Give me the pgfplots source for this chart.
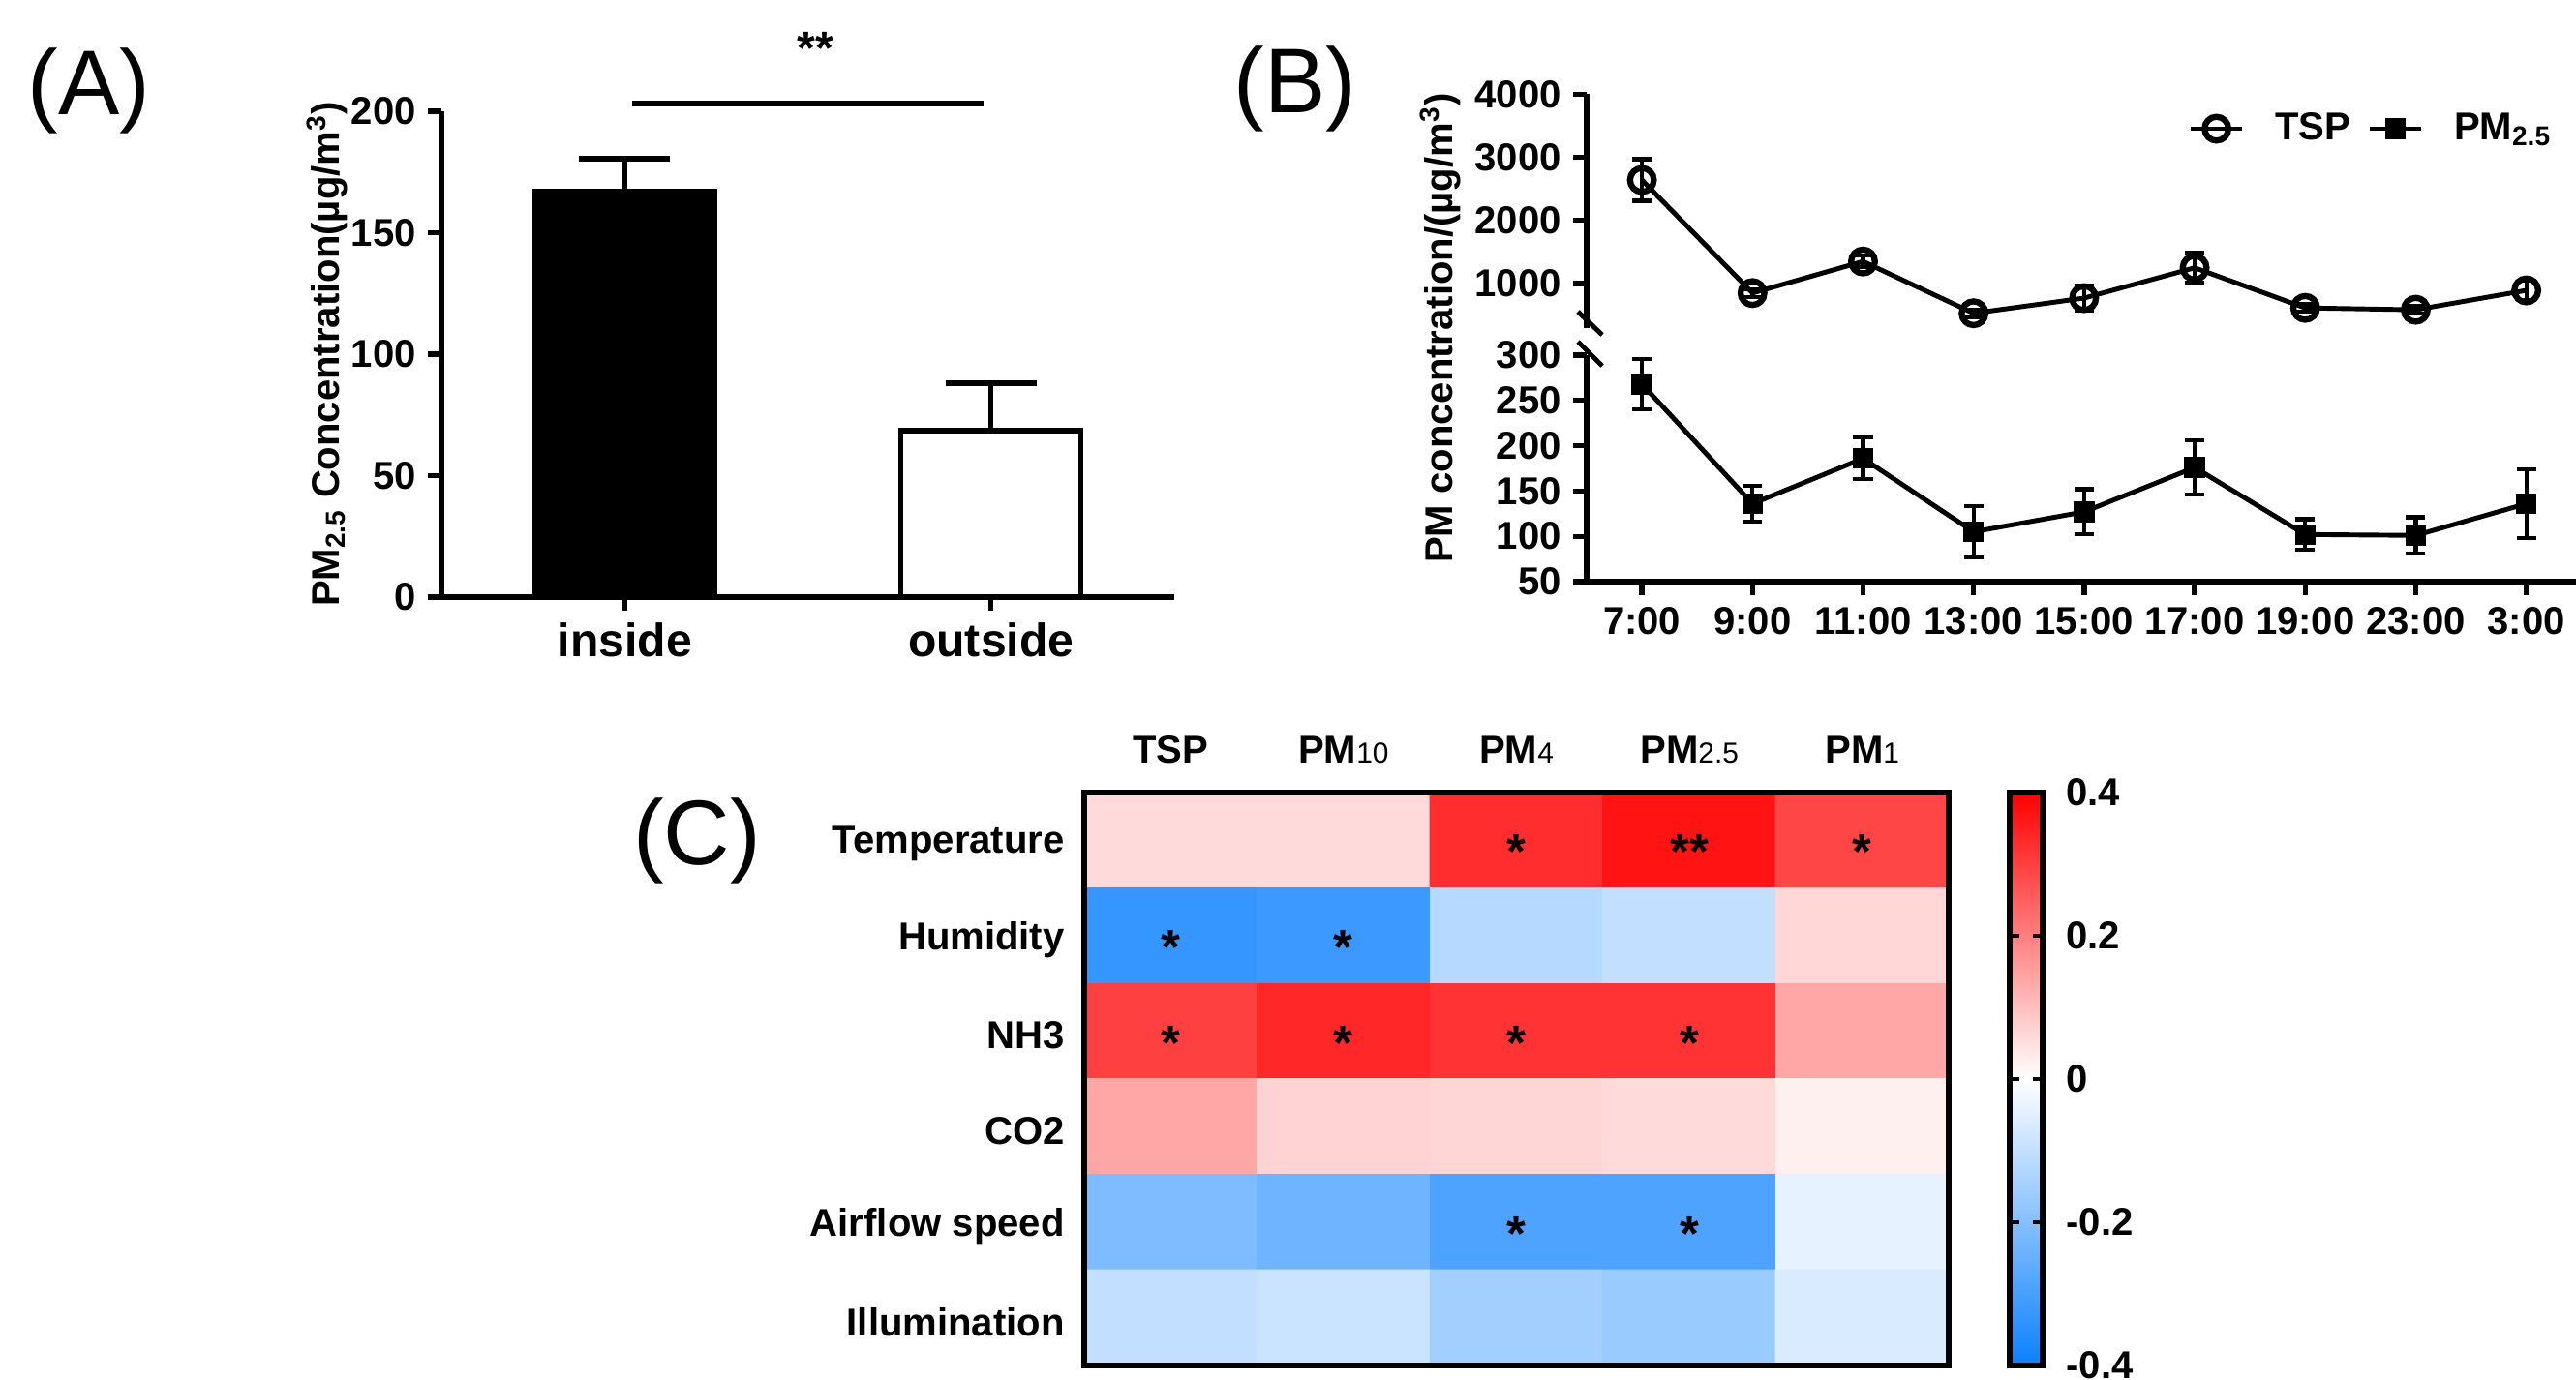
\documentclass[border=0pt]{standalone}
\usepackage{fontspec}
\setmainfont{Liberation Sans}
\usepackage{pgfplots}
\pgfplotsset{compat=1.18}

\newcommand{\lab}{\fontsize{11.4}{13.7}\selectfont\bfseries}
\newcommand{\sub}[1]{{\mdseries\fontsize{8.5}{10}\selectfont #1}}

\pgfplotsset{
  prism/.style={
    scale only axis,
    axis line style={line width=1.6pt},
    tick align=outside,
    major tick length=0.14cm,
    major tick style={line width=1.5pt, black},
    tick label style={font=\lab},
    clip=false,
  },
  tsp/.style={black, line width=1.4pt, mark=o, mark size=3.5pt,
    mark options={solid, fill=white, line width=1.8pt}},
  pm/.style={black, line width=1.4pt, mark=square*, mark size=2.85pt,
    mark options={solid, line width=0.4pt}},
}

\begin{document}
\begin{tikzpicture}
\useasboundingbox (0,0) rectangle (26.61cm,-14.26cm);

% (A) bar chart
\begin{axis}[prism,
  at={(4.56cm,-6.17cm)}, anchor=south west,
  width=7.57cm, height=5.02cm,
  axis lines*=left,
  xmin=-0.5, xmax=1.5, ymin=0, ymax=200,
  xtick={0,1}, xticklabels={inside,outside},
  x tick label style={font=\fontsize{13.7}{16}\selectfont\bfseries},
  ytick={0,50,100,150,200}, yticklabels={0,50,100,150,200},
  ybar, bar width=1.86cm,
]
\addplot[fill=black, draw=black, line width=1.5pt, bar shift=0pt,
  error bars/.cd, y dir=plus, y explicit,
  error bar style={line width=1.5pt},
  error mark options={rotate=90, mark size=0.47cm, line width=1.5pt}]
  coordinates {(0,167) +- (0,13.5)};
\addplot[fill=white, draw=black, line width=1.5pt, bar shift=0pt,
  error bars/.cd, y dir=plus, y explicit,
  error bar style={line width=1.5pt},
  error mark options={rotate=90, mark size=0.47cm, line width=1.5pt}]
  coordinates {(1,68.5) +- (0,19.5)};
\draw[line width=1.5pt] (axis cs:0.02,203.2) -- (axis cs:0.98,203.2);
\node[font=\fontsize{13.7}{16}\selectfont\bfseries] at (axis cs:0.52,226) {**};
\end{axis}

% (B) lower segment: PM2.5
\begin{axis}[prism,
  at={(16.39cm,-6.01cm)}, anchor=south west,
  width=10.22cm, height=2.34cm,
  axis lines*=left,
  xmin=-0.5, xmax=8.45, ymin=50, ymax=300,
  xtick={0,...,8},
  xticklabels={7:00,9:00,11:00,13:00,15:00,17:00,19:00,23:00,3:00},
  ytick={50,100,150,200,250,300}, yticklabels={50,100,150,200,250,300},
]
\addplot[pm,
  error bars/.cd, y dir=both, y explicit,
  error bar style={line width=1.2pt, solid},
  error mark options={rotate=90, mark size=2.85pt, line width=1.2pt}]
  coordinates {
  (0,268) +- (0,28)
  (1,136) +- (0,20)
  (2,186) +- (0,23)
  (3,105) +- (0,28)
  (4,127) +- (0,25)
  (5,176) +- (0,30)
  (6,102) +- (0,17)
  (7,101) +- (0,20)
  (8,136) +- (0,38)
  };
\end{axis}

% (B) upper segment: TSP
\begin{axis}[prism,
  at={(16.39cm,-3.387cm)}, anchor=south west,
  width=10.22cm, height=2.414cm,
  axis y line*=left, axis x line=none,
  xmin=-0.5, xmax=8.45, ymin=300, ymax=4000,
  xtick=\empty,
  ytick={1000,2000,3000,4000}, yticklabels={1000,2000,3000,4000},
  legend columns=2,
  legend style={at={(0.6076,0.852)}, anchor=west, draw=none, fill=none,
    inner sep=0pt, font=\fontsize{11.4}{13.7}\selectfont\bfseries,
    nodes={inner sep=1pt},
    /tikz/every odd column/.append style={column sep=0.28cm},
    /tikz/every even column/.append style={column sep=0.14cm}},
  legend image code/.code={\draw[mark repeat=2, mark phase=2, #1]
    plot coordinates {(0cm,0cm) (0.265cm,0cm) (0.53cm,0cm)};},
]
\addplot[tsp,
  error bars/.cd, y dir=both, y explicit,
  error bar style={line width=1.2pt, solid},
  error mark options={rotate=90, mark size=2.85pt, line width=1.2pt}]
  coordinates {
  (0,2640) +- (0,330)
  (1,850) +- (0,60)
  (2,1350) +- (0,90)
  (3,530) +- (0,60)
  (4,770) +- (0,200)
  (5,1250) +- (0,240)
  (6,615) +- (0,60)
  (7,585) +- (0,60)
  (8,892) +- (0,150)
  };
\addlegendentry{TSP}
\addlegendimage{pm}
\addlegendentry{PM\textsubscript{2.5}}
\end{axis}

% axis break marks
\draw[line width=1.4pt] (16.30cm,-3.22cm) -- (16.55cm,-3.46cm);
\draw[line width=1.4pt] (16.30cm,-3.53cm) -- (16.55cm,-3.78cm);

% (C) correlation heatmap
\begin{axis}[
  at={(11.20cm,-14.11cm)}, anchor=south west,
  scale only axis, width=8.93cm, height=5.92cm,
  xmin=-0.5, xmax=4.5, ymin=-0.5, ymax=5.5, y dir=reverse,
  xtick={0,...,4},
  xticklabels={TSP,PM\sub{10},PM\sub{4},PM\sub{2.5},PM\sub{1}},
  xticklabel pos=right,
  ytick={0,...,5},
  yticklabels={Temperature,Humidity,NH3,CO2,Airflow speed,Illumination},
  major tick length=0pt,
  tick label style={font=\lab},
  xticklabel style={yshift=0.18cm},
  yticklabel style={xshift=-0.08cm, yshift=-0.04cm},
  axis line style={line width=1.6pt},
  axis on top,
  colormap={rb}{rgb255(0cm)=(10,128,255); rgb255(1cm)=(255,255,255); rgb255(2cm)=(255,0,0)},
  point meta min=-0.4, point meta max=0.4,
  colorbar shift/.style={},
  colorbar,
  colorbar style={
    at={(parent axis.north east)}, anchor=north west, xshift=0.63cm,
    scale only axis, width=0.34cm, height=5.92cm,
    ytick={-0.4,-0.2,0,0.2,0.4}, yticklabels={-0.4,-0.2,0,0.2,0.4},
    tick align=inside, major tick length=0.1cm,
    ytick pos=both, yticklabel pos=right,
    major tick style={line width=1.3pt, black},
    axis line style={line width=1.6pt},
    tick label style={font=\lab},
    yticklabel style={xshift=0.12cm},
  },
]
\addplot[matrix plot*, mesh/cols=5, point meta=explicit] table[meta=c] {
x y c
0 0 0.058
1 0 0.058
2 0 0.33
3 0 0.37
4 0 0.29
0 1 -0.33
1 1 -0.32
2 1 -0.12
3 1 -0.10
4 1 0.063
0 2 0.30
1 2 0.34
2 2 0.32
3 2 0.32
4 2 0.14
0 3 0.14
1 3 0.07
2 3 0.065
3 3 0.058
4 3 0.024
0 4 -0.21
1 4 -0.235
2 4 -0.29
3 4 -0.29
4 4 -0.04
0 5 -0.10
1 5 -0.086
2 5 -0.15
3 5 -0.165
4 5 -0.063
};
\begin{scope}[every node/.style={font=\fontsize{14.5}{16}\selectfont\bfseries, yshift=-0.12cm}]
\node at (axis cs:2,0) {*};
\node at (axis cs:3,0) {**};
\node at (axis cs:4,0) {*};
\node at (axis cs:0,1) {*};
\node at (axis cs:1,1) {*};
\node at (axis cs:0,2) {*};
\node at (axis cs:1,2) {*};
\node at (axis cs:2,2) {*};
\node at (axis cs:3,2) {*};
\node at (axis cs:2,4) {*};
\node at (axis cs:3,4) {*};
\end{scope}
\end{axis}

% panel letters and axis titles
\node[font=\fontsize{27}{30}\selectfont] at (0.92cm,-0.94cm) {(A)};
\node[font=\fontsize{27}{30}\selectfont] at (13.38cm,-0.92cm) {(B)};
\node[font=\fontsize{27}{30}\selectfont] at (7.20cm,-8.69cm) {(C)};
\node[rotate=90, font=\lab] at (3.38cm,-3.66cm)
  {PM\textsubscript{2.5} Concentration(µg/m\textsuperscript{3})};
\node[rotate=90, font=\lab] at (14.88cm,-3.39cm)
  {PM concentration/(µg/m\textsuperscript{3})};
\end{tikzpicture}
\end{document}
